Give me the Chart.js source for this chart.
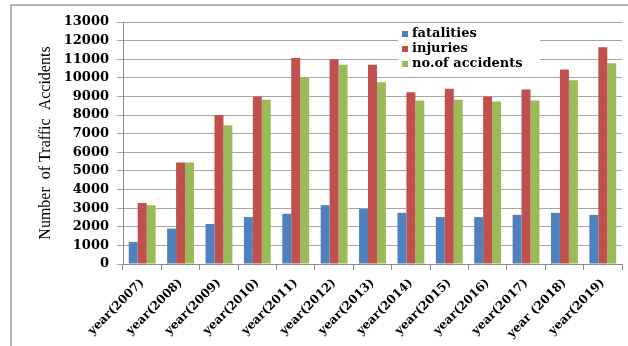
<!DOCTYPE html>
<html>
<head>
<meta charset="utf-8">
<script src="https://cdn.jsdelivr.net/npm/chart.js@4"></script>
<style>
  html, body { margin: 0; padding: 0; background: #fff; }
  #wrap { position: relative; width: 628px; height: 346px; }
</style>
</head>
<body>
<div id="wrap"><canvas id="accidentsChart" width="628" height="346"></canvas></div>
<script>
(function() {
    'use strict';

    // --- Data ---
    const years = ['year(2007)', 'year(2008)', 'year(2009)', 'year(2010)', 'year(2011)', 'year(2012)', 'year(2013)',
        'year(2014)', 'year(2015)', 'year(2016)', 'year(2017)', 'year (2018)', 'year(2019)'];
    const fatalities = [1180, 1900, 2150, 2520, 2700, 3160, 2960, 2750, 2520, 2520, 2640, 2750, 2640];
    const injuries = [3280, 5450, 8000, 9000, 11070, 11000, 10700, 9220, 9420, 9000, 9370, 10450, 11640];
    const accidents = [3160, 5450, 7450, 8830, 10050, 10700, 9760, 8780, 8830, 8730, 8780, 9870, 10790];

    const COLORS = { blue: '#4F81BD', red: '#C0504D', green: '#9BBB59' };
    const SERIF = '"DejaVu Serif", "Liberation Serif", serif';

    // frame round the whole picture (only top and left edges show)
    const framePlugin = {
        id: 'frame',
        beforeDraw(chart) {
            const ctx = chart.ctx;
            ctx.save();
            ctx.strokeStyle = '#b4b4b4';
            ctx.lineWidth = 2;
            ctx.beginPath();
            ctx.moveTo(11, chart.height);
            ctx.lineTo(11, 5);
            ctx.lineTo(chart.width, 5);
            ctx.stroke();
            ctx.restore();
        }
    };

    // legend drawn inside the plot, like the original
    const insideLegend = {
        id: 'insideLegend',
        afterDatasetsDraw(chart) {
            const ctx = chart.ctx;
            const area = chart.chartArea;
            const x = area.left + 275, y = area.top + 4;
            ctx.save();
            ctx.fillStyle = '#fff';
            ctx.fillRect(x, y, 142, 46);
            ctx.font = 'bold 13px ' + SERIF;
            ctx.textBaseline = 'middle';
            chart.data.datasets.forEach((ds, i) => {
                const rowY = y + 8 + i * 15;
                ctx.fillStyle = ds.backgroundColor;
                ctx.fillRect(x + 4, rowY - 3, 6, 6);
                ctx.fillStyle = '#000';
                ctx.fillText(ds.label, x + 14, rowY);
            });
            ctx.restore();
        }
    };

    const ctx = document.getElementById('accidentsChart').getContext('2d');
    new Chart(ctx, {
        type: 'bar',
        data: {
            labels: years,
            datasets: [
                { label: 'fatalities', data: fatalities, backgroundColor: COLORS.blue },
                { label: 'injuries', data: injuries, backgroundColor: COLORS.red },
                { label: 'no.of accidents', data: accidents, backgroundColor: COLORS.green }
            ]
        },
        options: {
            responsive: false,
            animation: false,
            layout: { padding: { left: 0, right: 6, top: 22, bottom: 0 } },
            datasets: { bar: { categoryPercentage: 0.7, barPercentage: 1.0 } },
            plugins: {
                legend: { display: false },
                tooltip: { enabled: false }
            },
            scales: {
                x: {
                    grid: { drawOnChartArea: false, drawTicks: true, tickLength: 6, color: '#8c8c8c', offset: true },
                    border: { display: true, color: '#8c8c8c' },
                    ticks: {
                        color: '#000',
                        font: { family: SERIF, weight: 'bold', size: 12 },
                        minRotation: 45, maxRotation: 45,
                        autoSkip: false, padding: 6
                    },
                    afterFit: (scale) => { scale.height = 82; }
                },
                y: {
                    min: 0, max: 13000,
                    grid: { color: '#a6a6a6', tickLength: 6 },
                    border: { display: true, color: '#8c8c8c' },
                    ticks: {
                        stepSize: 1000, color: '#000', padding: 8,
                        font: { family: SERIF, weight: 'bold', size: 13 },
                        callback: (v) => String(v)
                    },
                    title: {
                        display: true,
                        text: 'Number  of Traffic  Accidents',
                        color: '#000',
                        font: { family: '"Liberation Serif", serif', weight: 'normal', size: 16 },
                        padding: { top: 36, bottom: 0 }
                    },
                    afterFit: (scale) => { scale.width = 123; }
                }
            }
        },
        plugins: [framePlugin, insideLegend]
    });
})();
</script>
</body>
</html>
